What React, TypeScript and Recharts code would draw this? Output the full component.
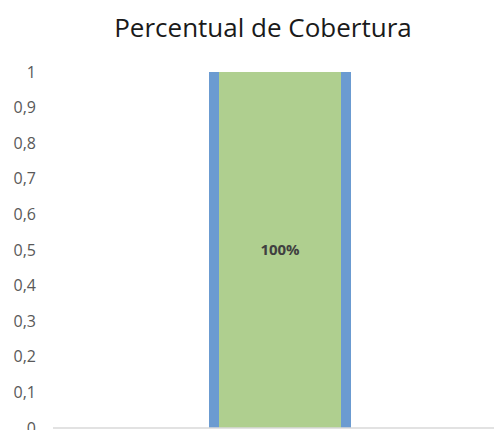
import React from "react";
import { Bar, BarChart, LabelList, XAxis, YAxis } from "recharts";

const categories = ["Cobertura"];
const coverage = [1];
const yTicks = [0, 0.1, 0.2, 0.3, 0.4, 0.5, 0.6, 0.7, 0.8, 0.9, 1];

const data = categories.map((name, i) => ({ name, value: coverage[i] }));

const FONT = "'Open Sans', 'Noto Sans', sans-serif";
const GREEN = "#afcf8f";
const BLUE = "#6b9bd1";

// barra verde com bordas azuis só nas laterais
function SideBorderBar(props: any) {
  const { x, y, width, height } = props;
  const side = 10;
  return (
    <g>
      <rect x={x} y={y} width={width} height={height} fill={GREEN} />
      <rect x={x} y={y} width={side} height={height} fill={BLUE} />
      <rect x={x + width - side} y={y} width={side} height={height} fill={BLUE} />
    </g>
  );
}

const fmtTick = (v: number) => String(Math.round(v * 10) / 10).replace(".", ",");
const fmtPct = (v: any) => `${Math.round(Number(v) * 100)}%`;

export default function App() {
  return (
    <div
      style={{
        position: "absolute",
        left: 0,
        top: 0,
        width: 494,
        height: 430,
        overflow: "hidden",
        background: "#fff",
        fontFamily: FONT,
      }}
    >
      <div
        style={{
          position: "absolute",
          left: 0,
          width: 526,
          top: 12,
          textAlign: "center",
          fontSize: 26,
          color: "#1a1a1a",
          lineHeight: "30px",
        }}
      >
        Percentual de Cobertura
      </div>
      <BarChart
        width={520}
        height={470}
        data={data}
        margin={{ top: 72, right: 13, left: 0, bottom: 12 }}
      >
        <XAxis
          dataKey="name"
          height={30}
          tick={false}
          tickLine={false}
          axisLine={{ stroke: "#d9d9d9", strokeWidth: 1.5 }}
        />
        <YAxis
          width={53}
          domain={[0, 1]}
          ticks={yTicks}
          tickFormatter={fmtTick}
          axisLine={false}
          tickLine={false}
          tickSize={0}
          tickMargin={17}
          tick={{ fill: "#595959", fontSize: 16, fontFamily: FONT }}
        />
        <Bar dataKey="value" barSize={142} shape={<SideBorderBar />} isAnimationActive={false}>
          <LabelList
            dataKey="value"
            position="center"
            formatter={fmtPct}
            style={{ fill: "#404040", fontSize: 15, fontWeight: 700, fontFamily: FONT }}
          />
        </Bar>
      </BarChart>
    </div>
  );
}
